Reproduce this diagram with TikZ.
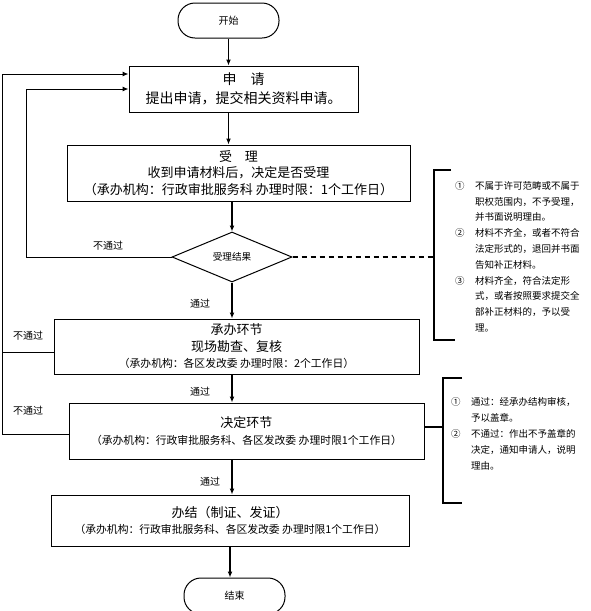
\documentclass[tikz,border=0pt]{standalone}
\usepackage{fontspec}
\setmainfont{Noto Sans CJK SC}
\usetikzlibrary{arrows.meta, calc, positioning, shapes.geometric}
\newcommand{\szbig}{\fontsize{14pt}{19pt}\selectfont}
\newcommand{\szmain}{\fontsize{13pt}{16.5pt}\selectfont}
\newcommand{\szsub}{\fontsize{10.8pt}{16.5pt}\selectfont}
\newcommand{\szlabel}{\fontsize{10pt}{12pt}\selectfont}
\newcommand{\sznote}{\fontsize{9.5pt}{15.8pt}\selectfont}
\newcommand{\notenum}[1]{\makebox[20pt][l]{#1}}
\newcommand{\noteind}{\hspace*{20pt}}

\begin{document}
\begin{tikzpicture}[
    x=1pt, y=-1pt,
    >={Latex[length=6pt,width=5pt]},
    every node/.style={font=\szlabel},
    term/.style ={draw, line width=1pt, rounded corners=17pt,
                  minimum width=101pt, minimum height=35pt, inner sep=0pt},
    box/.style  ={draw, line width=1pt, align=center, inner sep=2pt},
    test/.style ={draw, diamond, aspect=2.4, line width=1pt, inner sep=0pt,
                  minimum width=120pt, minimum height=50pt, font=\fontsize{9.6pt}{12pt}\selectfont},
    flow/.style ={->, line width=1.2pt},
    back/.style ={->, line width=1pt},
    brace/.style={line width=2pt},
    dashline/.style={line width=2pt, dash pattern=on 5pt off 4pt},
    note/.style ={align=left, font=\sznote, inner sep=0pt, anchor=north west},
]
\useasboundingbox (0,0) rectangle (591,611);
\node[term] (start) at (228.5,20.5) {开始};
\node[box, minimum width=229pt, minimum height=46pt, font=\szbig] (apply) at (243.5,89)
   {申\quad 请\\ 提出申请，提交相关资料申请。};
\node[box, minimum width=343pt, minimum height=56pt, font=\szmain] (accept) at (238.5,173)
   {受\quad 理\\ 收到申请材料后，决定是否受理\\
    （承办机构：行政审批服务科 办理时限：1个工作日）};
\node[test] (dec) at (232,257) {受理结果};
\node[box, minimum width=365pt, minimum height=55pt, font=\szmain] (handle) at (236.5,346.5)
   {承办环节\\ 现场勘查、复核\\ \szsub （承办机构：各区发改委 办理时限：2个工作日）};
\node[box, minimum width=355pt, minimum height=56pt, font=\szmain] (decide) at (246.5,431)
   {决定环节\\ \szsub （承办机构：行政审批服务科、各区发改委 办理时限1个工作日）};
\node[box, minimum width=358pt, minimum height=51pt, font=\szmain] (finish) at (230,520.5)
   {办结（制证、发证）\\ \szsub （承办机构：行政审批服务科、各区发改委 办理时限1个工作日）};
\node[term, minimum height=36pt] (stop) at (234.5,596) {结束};
% main flow
\draw[flow] (start) -- (apply.north -| start);
\draw[flow] (apply.south -| start) -- (accept.north -| start);
\draw[flow] (accept.south -| dec) -- (dec.north);
\draw[flow] (dec.south) -- node[pos=0.6, left=18pt]{通过} (handle.north -| dec);
\draw[flow] (handle.south -| dec) -- node[pos=0.6, left=18pt]{通过} (decide.north -| dec);
\draw[flow] (decide.south -| dec) -- node[pos=0.62, left=8pt]{通过} (finish.north -| dec);
\draw[flow] (finish.south) -- (finish.south |- stop.north);
% loop-backs to the application
\draw[back] (dec.west) -- ++(-145,0) |- (apply.west);
\node at (108,246) {不通过};
\draw[back] ([yshift=-5.5pt]handle.west) -- ++(-51,0) |- ([yshift=15pt]apply.west);
\node at (28,336) {不通过};
\draw[line width=1pt] ([yshift=-3pt]decide.west) -- ++(-66,0) |- ([yshift=-5.5pt]handle.west);
\node at (28,411) {不通过};
% side notes
\coordinate (br1) at (434,257);
\draw[dashline] (dec.east) -- (br1);
\draw[brace] (451,170) -- (434,170) -- (434,340) -- (455,340);
\node[note] (note1) at (455,181)
   {\notenum{①}不属于许可范畴或不属于\\
    \noteind 职权范围内，不予受理，\\
    \noteind 并书面说明理由。\\
    \notenum{②}材料不齐全，或者不符合\\
    \noteind 法定形式的，退回并书面\\
    \noteind 告知补正材料。\\
    \notenum{③}材料齐全，符合法定形\\
    \noteind 式，或者按照要求提交全\\
    \noteind 部补正材料的，予以受\\
    \noteind 理。};
\coordinate (br2) at (443,427);
\draw[brace] ([yshift=4pt]decide.east) -- (br2);
\draw[brace] (462,378) -- (443,378) -- (443,503) -- (462,503);
\node[note, font=\fontsize{9.5pt}{16pt}\selectfont] (note2) at (451,397)
   {\notenum{①}通过：经承办结构审核，\\
    \noteind 予以盖章。\\
    \notenum{②}不通过：作出不予盖章的\\
    \noteind 决定，通知申请人，说明\\
    \noteind 理由。};
\end{tikzpicture}
\end{document}
